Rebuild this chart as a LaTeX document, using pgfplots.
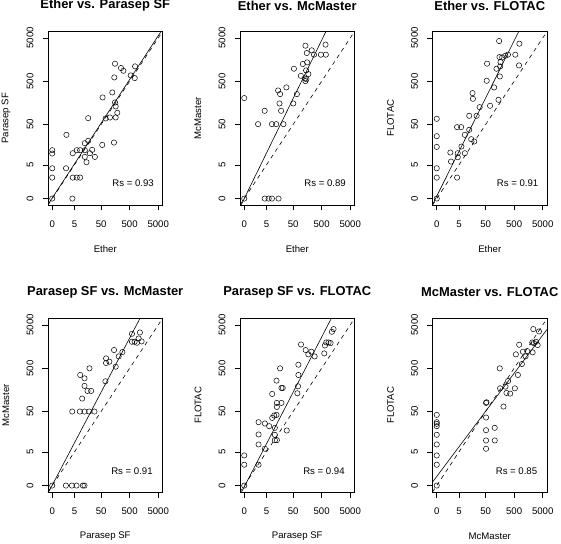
\documentclass[border=0pt]{standalone}
\usepackage{pgfplots}
\pgfplotsset{compat=1.18}
\usepackage{fontspec}
\setmainfont{Liberation Sans}
\tikzset{rs/.style={anchor=east, font=\fontsize{9.6}{11}\selectfont}}
\begin{document}
\begin{tikzpicture}
\path[use as bounding box] (0pt,0pt) rectangle (561pt,543pt);
\pgfplotsset{
 panel/.style={
  at={(#1)}, anchor=south west, scale only axis, width=114.5pt, height=173.5pt,
  xmin=-0.148, xmax=3.848, ymin=-0.148, ymax=3.848,
  xtick={0,0.778,1.708,2.700,3.699}, xticklabels={0,5,50,500,5000},
  ytick={0,0.778,1.708,2.700,3.699}, yticklabels={0,5,50,500,5000},
  tick align=outside, tick pos=left, major tick length=5.5pt,
  tick style={black, line width=0.5pt},
  axis line style={line width=0.6pt},
  tick label style={font=\fontsize{9.6}{11}\selectfont},
  x tick label style={anchor=center, yshift=-13.5pt},
  y tick label style={anchor=center, xshift=-12.5pt, rotate=90},
  /pgf/number format/assume math mode=true,
  xlabel style={at={(axis description cs:0.5,-0.255)}, anchor=center, font=\fontsize{9.6}{11}\selectfont},
  ylabel style={at={(axis description cs:-0.367,0.5)}, anchor=center, rotate=0, font=\fontsize{9.6}{11}\selectfont},
  title style={at={(axis description cs:0.5,1.115)}, anchor=center, font=\bfseries\fontsize{12.9}{15}\selectfont},
 },
 pts/.style={only marks, mark=o, mark size=2.65pt, mark options={line width=0.5pt, black}},
 reg/.style={black, line width=0.6pt, no marks},
 diag/.style={black, line width=0.6pt, dash pattern=on 4pt off 4pt, no marks},
}
% ---- Panel 1
\begin{axis}[panel={48pt,338pt}, title={Ether vs. Parasep SF}, xlabel={Ether}, ylabel={Parasep SF}]
\addplot[pts] coordinates {(0,0) (0,0.483) (0,0.698) (0,1.037) (0,1.114) (0.704,0) (0.482,0.698) (0.494,1.468) (0.716,0.483) (0.856,0.483) (0.973,0.483) (0.716,1.045) (0.856,1.114) (0.973,1.114) (1.137,1.114) (1.137,0.96) (1.195,0.837) (1.137,1.275) (1.254,1.329) (1.254,1.852) (1.313,1.045) (1.395,1.122) (1.488,0.96) (1.745,1.235) (1.757,2.329) (1.862,1.845) (2.014,1.868) (2.154,1.29) (2.213,1.868) (2.271,1.975) (2.19,2.214) (2.213,2.122) (2.096,2.444) (2.166,2.79) (2.19,3.106) (2.4,3.006) (2.482,2.944) (2.739,2.836) (2.891,3.045) (2.879,2.775)};
\addplot[reg] coordinates {(-0.148,-0.135) (3.848,3.900)};
\addplot[diag] coordinates {(-0.148,-0.148) (3.848,3.848)};
\node[rs] at (rel axis cs:0.955,0.128) {Rs = 0.93};
\end{axis}
% ---- Panel 2
\begin{axis}[panel={240pt,338pt}, title={Ether vs. McMaster}, xlabel={Ether}, ylabel={McMaster}]
\addplot[pts] coordinates {(0,0) (0,2.314) (0.713,0) (0.851,0) (0.966,0) (1.196,0) (0.483,1.714) (0.713,2.021) (0.966,1.714) (1.114,1.714) (1.367,1.714) (1.287,2.021) (1.229,2.19) (1.252,2.406) (1.183,2.49) (1.47,2.56) (1.711,2.19) (1.837,2.406) (1.734,2.99) (1.975,2.828) (2.044,3.099) (2.113,2.767) (2.136,2.706) (2.159,2.952) (2.194,3.137) (2.239,2.868) (2.182,3.352) (2.136,3.521) (2.354,3.414) (2.434,3.314) (2.676,3.314) (2.848,3.314) (2.837,3.545) (2.17,2.75)};
\addplot[reg] coordinates {(-0.148,-0.200) (3.848,5.195)};
\addplot[diag] coordinates {(-0.148,-0.148) (3.848,3.848)};
\node[rs] at (rel axis cs:0.955,0.128) {Rs = 0.89};
\end{axis}
% ---- Panel 3
\begin{axis}[panel={432.5pt,338pt}, title={Ether vs. FLOTAC}, xlabel={Ether}, ylabel={FLOTAC}]
\addplot[pts] coordinates {(0,0) (0,0.483) (0,0.698) (0,1.19) (0,1.437) (0,1.837) (0.475,1.06) (0.498,0.852) (0.71,0.483) (0.733,0.952) (0.733,1.045) (0.71,1.645) (0.851,1.645) (0.862,1.198) (0.98,1.045) (0.98,1.468) (1.133,1.583) (1.133,1.906) (1.203,1.368) (1.309,1.314) (1.262,2.298) (1.25,2.429) (1.391,1.906) (1.497,2.106) (1.744,2.713) (1.756,3.106) (1.861,2.137) (2.002,2.56) (2.085,2.99) (2.155,2.275) (2.19,3.26) (2.178,3.629) (2.202,2.813) (2.214,3.044) (2.225,3.144) (2.284,3.252) (2.39,3.29) (2.484,3.314) (2.742,3.314) (2.871,3.067) (2.883,3.567)};
\addplot[reg] coordinates {(-0.148,-0.141) (3.848,5.157)};
\addplot[diag] coordinates {(-0.148,-0.148) (3.848,3.848)};
\node[rs] at (rel axis cs:0.955,0.128) {Rs = 0.91};
\end{axis}
% ---- Panel 4
\begin{axis}[panel={48pt,51pt}, title={Parasep SF vs. McMaster}, xlabel={Parasep SF}, ylabel={McMaster}]
\addplot[pts] coordinates {(0,0) (0.477,0) (0.686,0) (0.848,0) (1.068,0) (1.126,0) (0.698,1.705) (0.964,1.705) (1.126,1.705) (1.289,1.705) (1.474,1.705) (1.045,2.004) (1.231,2.18) (1.358,2.18) (1.126,2.295) (0.976,2.547) (1.126,2.47) (1.3,2.7) (1.856,2.401) (1.879,2.822) (1.879,2.93) (1.995,2.853) (2.215,2.738) (2.157,3.121) (2.32,2.975) (2.448,3.075) (2.782,3.496) (2.782,3.312) (2.875,3.312) (2.956,3.289) (3.014,3.388) (3.06,3.526) (3.118,3.32)};
\addplot[reg] coordinates {(-0.148,-0.175) (3.848,4.836)};
\addplot[diag] coordinates {(-0.148,-0.148) (3.848,3.848)};
\node[rs] at (rel axis cs:0.945,0.122) {Rs = 0.91};
\end{axis}
% ---- Panel 5
\begin{axis}[panel={240pt,51pt}, title={Parasep SF vs. FLOTAC}, xlabel={Parasep SF}, ylabel={FLOTAC}]
\addplot[pts] coordinates {(0,0) (0,0.48) (0,0.694) (0.5,0.48) (0.5,0.947) (0.5,1.177) (0.5,1.46) (0.72,0.848) (0.72,1.43) (0.871,1.368) (0.976,1.559) (0.976,2.11) (1.045,1.613) (1.068,1.33) (1.068,1.169) (1.068,1.047) (1.138,1.047) (1.126,1.628) (1.138,1.812) (1.138,1.904) (1.126,2.417) (1.251,2.7) (1.298,2.248) (1.344,2.248) (1.298,1.904) (1.483,1.268) (1.854,2.126) (1.877,2.287) (1.889,2.547) (1.889,2.784) (1.981,3.25) (2.144,3.121) (2.237,3.022) (2.341,3.083) (2.457,2.975) (2.793,3.044) (2.816,3.228) (2.862,3.297) (2.943,3.297) (3.013,3.282) (3.059,3.542) (3.117,3.604)};
\addplot[reg] coordinates {(-0.148,-0.219) (3.848,4.884)};
\addplot[diag] coordinates {(-0.148,-0.148) (3.848,3.848)};
\node[rs] at (rel axis cs:0.945,0.122) {Rs = 0.94};
\end{axis}
% ---- Panel 6
\begin{axis}[panel={432.5pt,51pt}, title={McMaster vs. FLOTAC}, xlabel={McMaster}, ylabel={FLOTAC}]
\addplot[pts] coordinates {(0,0) (0,0.48) (0,0.694) (0,0.947) (0,1.169) (0,1.368) (0,1.422) (0,1.46) (0,1.628) (1.721,0.848) (1.721,1.039) (1.721,1.276) (1.721,1.567) (1.721,1.904) (1.735,1.919) (2.024,1.039) (2.024,1.33) (2.33,1.82) (2.199,2.7) (2.211,2.24) (2.398,2.279) (2.433,2.134) (2.492,2.409) (2.562,2.118) (2.726,2.24) (2.761,3.022) (2.831,2.547) (2.877,3.243) (2.971,2.8) (3.006,3.083) (3.1,2.975) (3.159,3.098) (3.346,3.068) (3.333,3.297) (3.392,3.282) (3.369,3.604) (3.521,3.236) (3.568,3.55) (3.463,3.312)};
\addplot[reg] coordinates {(-0.148,0.080) (3.848,3.596)};
\addplot[diag] coordinates {(-0.148,-0.148) (3.848,3.848)};
\node[rs] at (rel axis cs:0.945,0.122) {Rs = 0.85};
\end{axis}
\end{tikzpicture}
\end{document}
